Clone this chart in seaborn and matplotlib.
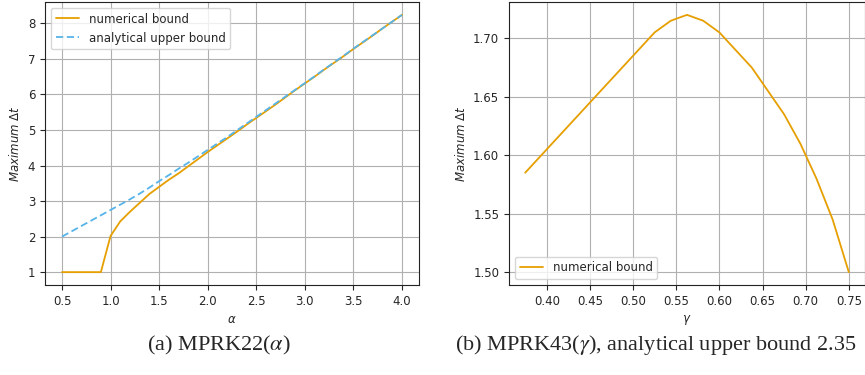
import numpy as np
import pandas as pd
import matplotlib
matplotlib.use("Agg")
import matplotlib.pyplot as plt
import seaborn as sns

# (a) MPRK22(alpha)
alpha = [0.5, 0.6, 0.7, 0.8, 0.9, 1.0, 1.1, 1.2, 1.3, 1.4, 1.5, 1.6, 1.7, 1.8, 1.9,
         2.0, 2.1, 2.2, 2.3, 2.4, 2.5, 2.6, 2.7, 2.8, 2.9, 3.0, 3.1, 3.2, 3.3, 3.4,
         3.5, 3.6, 3.7, 3.8, 3.9, 4.0]
numerical_a = [1.0, 1.0, 1.0, 1.0, 1.0, 2.02, 2.43, 2.70, 2.95, 3.20, 3.40, 3.60, 3.78,
               3.98, 4.18, 4.38, 4.57, 4.76, 4.95, 5.15, 5.34, 5.53, 5.72, 5.92, 6.12,
               6.31, 6.50, 6.70, 6.89, 7.08, 7.28, 7.47, 7.66, 7.86, 8.05, 8.24]
analytical_a = [2.00, 2.15, 2.30, 2.45, 2.60, 2.75, 2.90, 3.05, 3.21, 3.38, 3.56, 3.73,
                3.91, 4.08, 4.26, 4.44, 4.62, 4.80, 4.99, 5.18, 5.37, 5.56, 5.75, 5.94,
                6.13, 6.32, 6.51, 6.71, 6.90, 7.09, 7.29, 7.48, 7.67, 7.86, 8.05, 8.24]

# (b) MPRK43(gamma)
gamma = [0.375, 0.39375, 0.4125, 0.43125, 0.45, 0.46875, 0.4875, 0.50625, 0.525,
         0.54375, 0.5625, 0.58125, 0.6, 0.61875, 0.6375, 0.65625, 0.675, 0.69375,
         0.7125, 0.73125, 0.75]
numerical_b = [1.585, 1.600, 1.615, 1.630, 1.645, 1.660, 1.675, 1.690, 1.705, 1.715,
               1.720, 1.715, 1.705, 1.690, 1.675, 1.655, 1.635, 1.610, 1.580, 1.545,
               1.500]

ORANGE = "#E69F00"
SKYBLUE = "#56B4E9"

sns.set_theme(style="ticks", rc={"axes.grid": True, "grid.color": "#b0b0b0",
                                 "grid.linewidth": 0.8, "axes.edgecolor": "#222222",
                                 "axes.linewidth": 0.8})
plt.rcParams['font.family'] = ['DejaVu Sans']
FS = 8.5

df_a = pd.DataFrame({"alpha": alpha + alpha,
                     "dt": numerical_a + analytical_a,
                     "kind": ["numerical bound"] * len(alpha) + ["analytical upper bound"] * len(alpha)})
df_b = pd.DataFrame({"gamma": gamma, "dt": numerical_b})

fig = plt.figure(figsize=(8.65, 3.75), dpi=100)
ax1 = fig.add_axes([45 / 865, 1 - 285 / 375, 374 / 865, 283 / 375])
ax2 = fig.add_axes([509 / 865, 1 - 285 / 375, 356 / 865, 283 / 375])

sns.lineplot(data=df_a, x="alpha", y="dt", hue="kind", style="kind",
             palette=[ORANGE, SKYBLUE], dashes=[(None, None), (4, 2)],
             linewidth=1.3, ax=ax1)
ax1.set_xlabel(r"$\alpha$", fontsize=FS)
ax1.set_ylabel(r"$Maximum\ \Delta t$", fontsize=FS)
ax1.tick_params(labelsize=FS, length=3.5, width=0.8)
ax1.legend(loc="upper left", fontsize=FS, title=None)
ax1.set_xticks([0.5, 1.0, 1.5, 2.0, 2.5, 3.0, 3.5, 4.0])

sns.lineplot(data=df_b, x="gamma", y="dt", color=ORANGE, linewidth=1.3,
             label="numerical bound", ax=ax2)
ax2.set_xlabel(r"$\gamma$", fontsize=FS)
ax2.set_ylabel(r"$Maximum\ \Delta t$", fontsize=FS)
ax2.tick_params(labelsize=FS, length=3.5, width=0.8)
ax2.set_xticks([0.40, 0.45, 0.50, 0.55, 0.60, 0.65, 0.70, 0.75])
ax2.set_yticks([1.50, 1.55, 1.60, 1.65, 1.70])
ax2.yaxis.set_major_formatter(plt.FormatStrFormatter("%.2f"))
ax2.xaxis.set_major_formatter(plt.FormatStrFormatter("%.2f"))
ax2.legend(loc="lower left", fontsize=FS)

fig.text(219 / 865, 1 - 345 / 375, r"(a) MPRK22($\alpha$)", ha="center", va="center",
         fontsize=16, family="Liberation Serif", math_fontfamily="stix")
fig.text(455 / 865, 1 - 345 / 375, r"(b) MPRK43($\gamma$), analytical upper bound 2.35",
         ha="left", va="center", fontsize=16, family="Liberation Serif",
         math_fontfamily="stix")

fig.savefig("out.png", dpi=100)
